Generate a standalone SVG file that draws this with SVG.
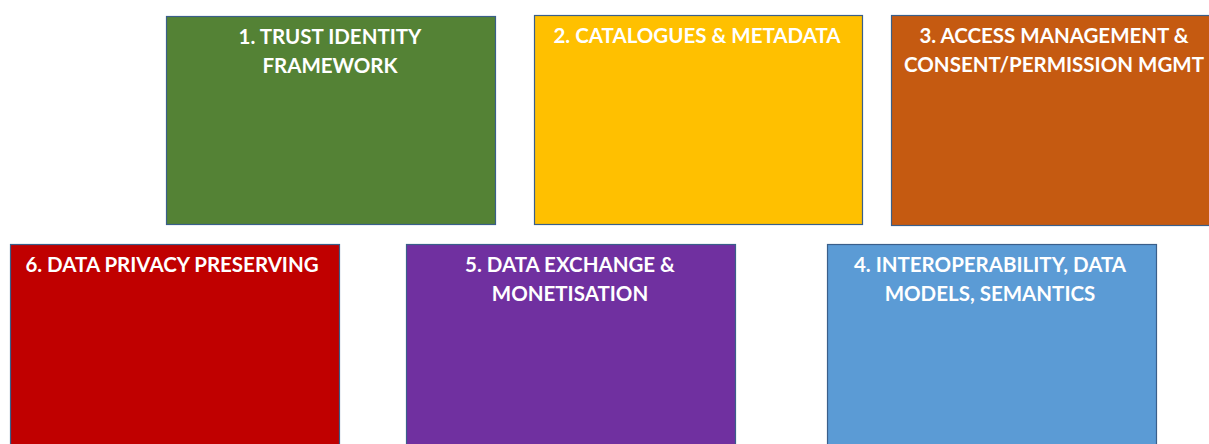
<svg xmlns="http://www.w3.org/2000/svg" width="1209" height="444" viewBox="0 0 1209 444">
<style>
.box{stroke:#3A5F8A;stroke-width:1.2}
.t{font-family:Lato,"Liberation Sans",sans-serif;font-weight:bold;font-size:20.5px;fill:#FFFFFF;text-anchor:middle}
</style>
<rect width="1209" height="444" fill="#FFFFFF"/>
<g id="connectors"/>
<g id="node1">
<rect class="box" x="166.5" y="16.5" width="329" height="208" fill="#548235"/>
<text class="t" x="330" y="44">1. TRUST IDENTITY</text>
<text class="t" x="330" y="73">FRAMEWORK</text>
</g>
<g id="node2">
<rect class="box" x="534.5" y="15.5" width="328" height="209" fill="#FFC000"/>
<text class="t" x="697" y="43">2. CATALOGUES &amp; METADATA</text>
</g>
<g id="node3">
<rect class="box" x="891.5" y="15.5" width="329" height="210" fill="#C55A11"/>
<text class="t" x="1054" y="43">3. ACCESS MANAGEMENT &amp;</text>
<text class="t" x="1054" y="72">CONSENT/PERMISSION MGMT</text>
</g>
<g id="node6">
<rect class="box" x="10.5" y="244.5" width="329" height="210" fill="#C00000"/>
<text class="t" x="172" y="272">6. DATA PRIVACY PRESERVING</text>
</g>
<g id="node5">
<rect class="box" x="406.5" y="244.5" width="329" height="210" fill="#7030A0"/>
<text class="t" x="570" y="272">5. DATA EXCHANGE &amp;</text>
<text class="t" x="570" y="301">MONETISATION</text>
</g>
<g id="node4">
<rect class="box" x="827.5" y="244.5" width="329" height="210" fill="#5B9BD5"/>
<text class="t" x="990" y="272">4. INTEROPERABILITY, DATA</text>
<text class="t" x="990" y="301">MODELS, SEMANTICS</text>
</g>
</svg>
